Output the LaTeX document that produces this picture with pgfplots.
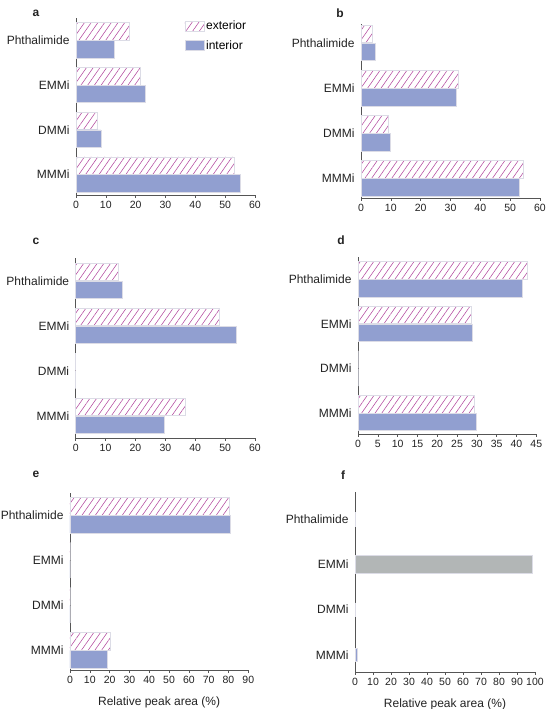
\documentclass[border=0pt]{standalone}
\usepackage{pgfplots}
\pgfplotsset{compat=1.18}
\usepackage{fontspec}
\setmainfont{Liberation Sans}
\usetikzlibrary{patterns.meta}
\definecolor{intc}{HTML}{919FD0}
\definecolor{hatc}{HTML}{B2489E}
\definecolor{edgec}{HTML}{DCDCE6}
\definecolor{axc}{HTML}{555555}
\definecolor{grayb}{HTML}{B2B6B6}
\definecolor{txtc}{HTML}{222222}
\pgfplotsset{
  panel/.style={
    xbar, scale only axis, anchor=south west,
    axis lines*=left,
    axis line style={draw=axc, line width=0.8pt},
    xmin=0,
    ytick={0,1,2,3},
    yticklabels={MMMi,DMMi,EMMi,Phthalimide},
    ytick style={draw=none},
    yticklabel style={font=\fontsize{12}{14}\selectfont, text=txtc},
    tick align=outside,
    xtick style={draw=axc, line width=0.6pt},
    major tick length=3pt,
    xticklabel style={font=\fontsize{10.5}{12}\selectfont, text=txtc},
    /pgf/number format/assume math mode=true,
    clip=false,
  },
  exter/.style={draw=edgec, line width=0.5pt,
    pattern={Lines[angle=55,distance=5.5pt,line width=0.55pt]}, pattern color=hatc,
    bar width=0.39, bar shift=0.2},
  inter/.style={draw=edgec, line width=0.5pt, fill=intc, bar width=0.39, bar shift=-0.2},
  xlab/.style={xlabel={Relative peak area (\%)}, xlabel style={font=\fontsize{12}{14}\selectfont, text=txtc, yshift=-6pt}},
}
\begin{document}
\begin{tikzpicture}
\useasboundingbox (0pt,0pt) rectangle (550pt,709pt);
% panel labels
\node[font=\bfseries\fontsize{12}{14}\selectfont, text=txtc] at (36pt,696pt) {a};
\node[font=\bfseries\fontsize{12}{14}\selectfont, text=txtc] at (340pt,696pt) {b};
\node[font=\bfseries\fontsize{12}{14}\selectfont, text=txtc] at (36pt,468pt) {c};
\node[font=\bfseries\fontsize{12}{14}\selectfont, text=txtc] at (341pt,469pt) {d};
\node[font=\bfseries\fontsize{12}{14}\selectfont, text=txtc] at (36pt,235pt) {e};
\node[font=\bfseries\fontsize{12}{14}\selectfont, text=txtc] at (343pt,234pt) {f};

% a
\begin{axis}[panel, at={(76pt,514pt)}, width=179pt, height=177pt, xmax=60, xtick={0,10,...,60},
  ymin=-0.46, ymax=3.5,
  legend style={at={(rel axis cs:0.6,1.0)}, anchor=north west, draw=none, fill=none,
    font=\fontsize{12}{14}\selectfont, row sep=5pt, inner sep=1pt},
  legend cell align=left,
  legend image code/.code={\draw[#1] (0pt,-5pt) rectangle (19pt,5pt);}]
\addplot[exter] coordinates {(52.9,0) (7.1,1) (21.7,2) (17.8,3)};
\addlegendentry{exterior}
\addplot[inter] coordinates {(55.1,0) (8.3,1) (23.3,2) (12.8,3)};
\addlegendentry{interior}
\end{axis}

% b
\begin{axis}[panel, at={(361pt,511pt)}, width=179pt, height=174pt, xmax=60, xtick={0,10,...,60},
  ymin=-0.44, ymax=3.42]
\addplot[exter] coordinates {(54.4,0) (9.2,1) (32.6,2) (3.8,3)};
\addplot[inter] coordinates {(53.1,0) (9.9,1) (32.0,2) (4.7,3)};
\end{axis}

% c
\begin{axis}[panel, at={(75.7pt,271pt)}, width=179.3pt, height=180pt, xmax=60, xtick={0,10,...,60},
  ymin=-0.49, ymax=3.51]
\addplot[exter] coordinates {(36.8,0) (0,1) (48.0,2) (14.4,3)};
\addplot[inter] coordinates {(29.7,0) (0,1) (53.6,2) (15.6,3)};
\end{axis}

% d
\begin{axis}[panel, at={(358pt,275pt)}, width=178.3pt, height=177pt, xmax=45, xtick={0,5,...,45},
  ymin=-0.47, ymax=3.5]
\addplot[exter] coordinates {(29.4,0) (0,1) (28.5,2) (42.6,3)};
\addplot[inter] coordinates {(29.9,0) (0,1) (28.8,2) (41.5,3)};
\end{axis}

% e
\begin{axis}[panel, xlab, at={(70pt,39pt)}, width=178.3pt, height=177pt, xmax=90, xtick={0,10,...,90},
  ymin=-0.44, ymax=3.49]
\addplot[exter] coordinates {(20.4,0) (0,1) (0,2) (80.3,3)};
\addplot[inter] coordinates {(18.9,0) (0,1) (0,2) (81.1,3)};
\end{axis}

% f
\begin{axis}[panel, xlab, at={(355pt,37pt)}, width=180pt, height=180pt, xmax=100, xtick={0,10,...,100},
  ymin=-0.38, ymax=3.6]
\addplot[draw=edgec, line width=0.5pt, fill=grayb, bar width=0.39, bar shift=0] coordinates {(98.5,2)};
\addplot[draw=edgec, line width=0.5pt, fill=intc, bar width=0.3, bar shift=0] coordinates {(1.2,0)};
\addplot[draw=edgec, line width=0.5pt, fill=edgec, bar width=0.3, bar shift=0] coordinates {(0.4,1) (0.4,3)};
\end{axis}
\end{tikzpicture}
\end{document}
